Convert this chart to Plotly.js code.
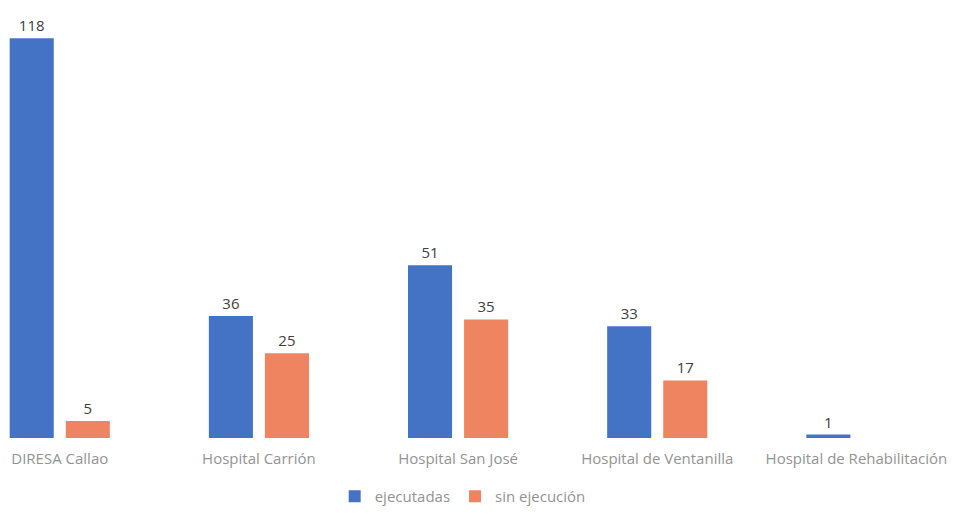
<!DOCTYPE html>
<html>
<head>
<meta charset="utf-8">
<script src="https://cdn.plot.ly/plotly-3.0.1.min.js"></script>
<style>html,body{margin:0;padding:0;background:#fff;}#chart{width:954px;height:513px;}</style>
</head>
<body>
<div id="chart"></div>
<script>
const categories = ["DIRESA Callao", "Hospital Carrión", "Hospital San José", "Hospital de Ventanilla", "Hospital de Rehabilitación"];
const ejecutadas = [118, 36, 51, 33, 1];
const sinEjecucion = [5, 25, 35, 17, 0];
const seriesNames = ["ejecutadas", "sin ejecución"];

const FONT = "Open Sans, Noto Sans, sans-serif";
const labelFont = {family: FONT, size: 15, color: "#404040"};

function lbl(arr) { return arr.map(v => v ? String(v) : ""); }

const traces = [
  {type: "bar", name: seriesNames[0], x: categories, y: ejecutadas, marker: {color: "#4472C4"},
   text: lbl(ejecutadas), textposition: "outside", textfont: labelFont, cliponaxis: false},
  {type: "bar", name: seriesNames[1], x: categories, y: sinEjecucion, marker: {color: "#EE8460"},
   text: lbl(sinEjecucion), textposition: "outside", textfont: labelFont, cliponaxis: false}
];

const layout = {
  width: 954, height: 513,
  margin: {l: 0, r: 0, t: 10, b: 75},
  paper_bgcolor: "#fff", plot_bgcolor: "#fff",
  barmode: "group", bargap: 0.437, bargroupgap: 0.214,
  xaxis: {range: [-0.30, 4.49], showgrid: false, showline: false, zeroline: false, ticks: "",
          automargin: false, ticklabelstandoff: 10,
          tickfont: {family: FONT, size: 15, color: "#939393"}},
  yaxis: {range: [0, 126.3], visible: false, showgrid: false, zeroline: false, automargin: false},
  showlegend: true,
  legend: {orientation: "h", x: 0.485, xanchor: "center", y: -75/428, yanchor: "bottom",
           itemwidth: 30, font: {family: FONT, size: 15, color: "#939393"}},
  font: {family: FONT}
};

Plotly.newPlot("chart", traces, layout, {displayModeBar: false, staticPlot: true});
</script>
</body>
</html>
